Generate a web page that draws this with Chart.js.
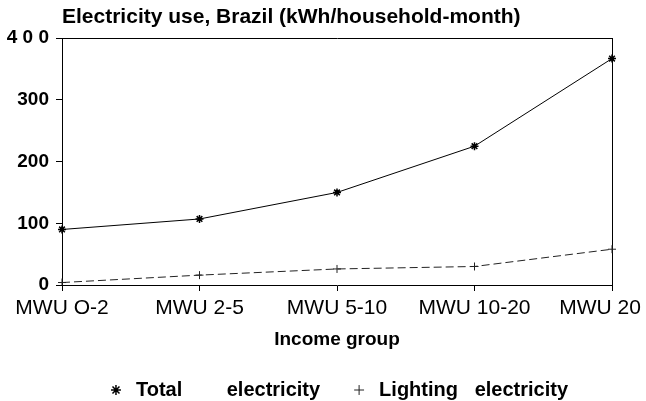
<!DOCTYPE html>
<html>
<head>
<meta charset="utf-8">
<script src="https://cdn.jsdelivr.net/npm/chart.js@4/dist/chart.umd.min.js"></script>
<style>
  html, body { margin: 0; padding: 0; background: #ffffff; }
  #wrap { width: 646px; height: 401px; }
</style>
</head>
<body>
<div id="wrap"><canvas id="c" width="646" height="401"></canvas></div>
<script>
// ---- data ----
const categories = ["MWU O-2", "MWU 2-5", "MWU 5-10", "MWU 10-20", "MWU 20"];
const totalElectricity = [90, 107, 150, 225, 367];
const lightingElectricity = [4, 16, 26, 30, 58];
const yTicks = [0, 100, 200, 300, 400];
const yTickLabels = ["0", "100", "200", "300", "4 0 0"];
const seriesNames = ["Total        electricity", "Lighting   electricity"];

const FONT = "'Liberation Sans', Arial, sans-serif";

// nudge the last category label left so it stays inside the canvas, as in the reference
const lastLabelNudge = {
  id: 'lastLabelNudge',
  afterLayout(chart) {
    const sc = chart.scales.x;
    const items = sc.getLabelItems(chart.chartArea);
    if (items && items.length) {
      const last = items[items.length - 1];
      if (last.options && last.options.translation) last.options.translation[0] -= 12;
    }
  }
};

new Chart(document.getElementById('c'), {
  type: 'line',
  data: {
    labels: categories,
    datasets: [
      {
        label: seriesNames[0],
        data: totalElectricity,
        borderColor: '#000000',
        backgroundColor: '#000000',
        borderWidth: 1,
        pointStyle: 'star',
        pointRadius: 4,
        pointBorderWidth: 1.5,
        tension: 0
      },
      {
        label: seriesNames[1],
        data: lightingElectricity,
        borderColor: '#222222',
        backgroundColor: '#222222',
        borderWidth: 1,
        borderDash: [8, 4],
        pointStyle: 'cross',
        pointRadius: 4,
        pointBorderWidth: 1,
        tension: 0
      }
    ]
  },
  options: {
    responsive: false,
    animation: false,
    devicePixelRatio: 1,
    layout: { padding: { left: 0, right: 0, top: 0, bottom: -9 } },
    plugins: {
      title: {
        display: true,
        text: 'Electricity use, Brazil (kWh/household-month)',
        align: 'start',
        fullSize: false,
        color: '#000000',
        font: { family: FONT, size: 21, weight: 'bold' },
        padding: { top: 5, bottom: 0 }
      },
      legend: {
        display: true,
        position: 'bottom',
        fullSize: false,
        labels: {
          usePointStyle: true,
          boxWidth: 20,
          boxHeight: 7,
          color: '#000000',
          font: { family: FONT, size: 20, weight: 'bold' },
          padding: 29
        }
      },
      tooltip: { enabled: false }
    },
    scales: {
      x: {
        type: 'category',
        offset: false,
        afterFit: (scale) => { scale.paddingRight = 34; },
        grid: { display: true, drawOnChartArea: false, tickLength: 6, color: '#000000' },
        border: { display: true, color: '#000000', width: 1 },
        ticks: {
          color: '#000000',
          maxRotation: 0,
          autoSkip: false,
          padding: 5,
          font: { family: FONT, size: 21, weight: 'normal' }
        },
        title: {
          display: true,
          text: 'Income group',
          color: '#000000',
          font: { family: FONT, size: 19, weight: 'bold' },
          padding: { top: 2, bottom: 0 }
        }
      },
      y: {
        type: 'linear',
        min: 0,
        max: 400,
        afterFit: (scale) => { scale.width = 62; },
        afterBuildTicks: (scale) => { scale.ticks = yTicks.map(v => ({ value: v })); },
        grid: { display: true, drawOnChartArea: false, tickLength: 6, color: '#000000' },
        border: { display: true, color: '#000000', width: 1 },
        ticks: {
          color: '#000000',
          padding: 7,
          crossAlign: 'near',
          font: { family: FONT, size: 19, weight: 'bold' },
          callback: (value) => {
            const i = yTicks.indexOf(value);
            return i >= 0 ? yTickLabels[i] : '';
          }
        }
      },
      x2: {
        type: 'category',
        position: 'top',
        display: true,
        grid: { display: false },
        border: { display: true, color: '#000000', width: 1 },
        ticks: { display: false }
      },
      y2: {
        type: 'linear',
        position: 'right',
        min: 0,
        max: 400,
        display: true,
        grid: { display: false },
        border: { display: true, color: '#000000', width: 1 },
        ticks: { display: false }
      }
    }
  },
  plugins: [lastLabelNudge]
});
</script>
</body>
</html>
